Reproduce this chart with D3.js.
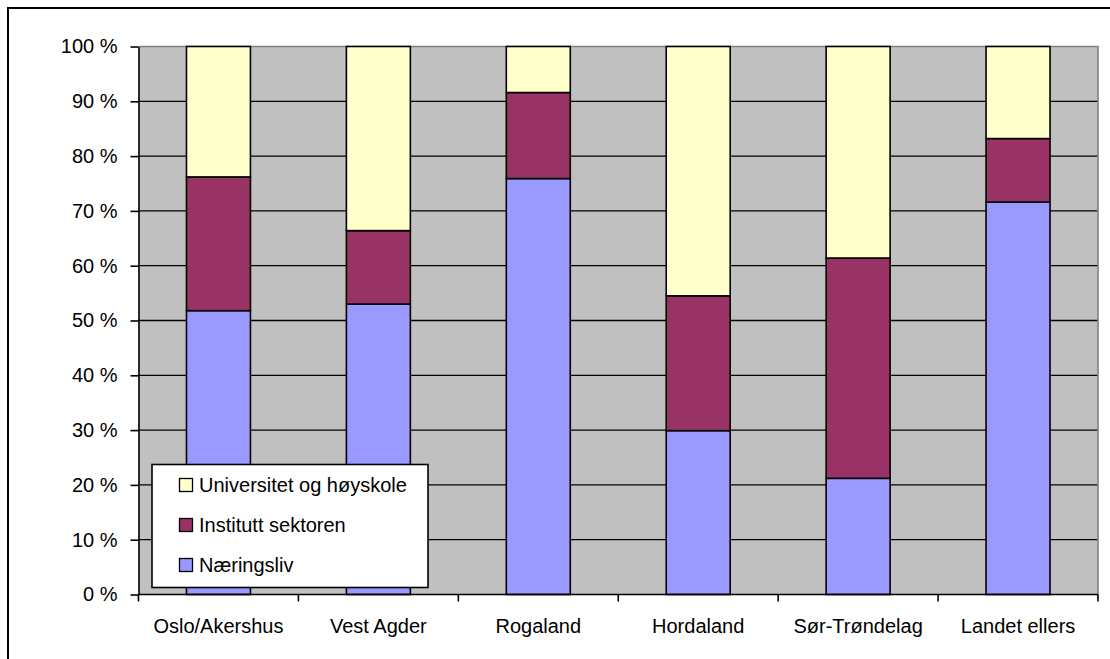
<!DOCTYPE html>
<html>
<head>
<meta charset="utf-8">
<script src="https://cdn.jsdelivr.net/npm/d3@7"></script>
<style>
  html, body { margin: 0; padding: 0; background: #fff; }
  svg { display: block; }
  text { font-family: "Liberation Sans", Arial, sans-serif; fill: #000; }
</style>
</head>
<body>
<svg id="chart" width="1110" height="659"></svg>
<script>
const categories = ["Oslo/Akershus", "Vest Agder", "Rogaland", "Hordaland", "Sør-Trøndelag", "Landet ellers"];
const seriesNames = ["Næringsliv", "Institutt sektoren", "Universitet og høyskole"];
const naeringsliv = [51.8, 53.0, 75.9, 29.9, 21.2, 71.6];
const institutt   = [24.4, 13.4, 15.7, 24.6, 40.2, 11.6];
const universitet = [23.8, 33.6, 8.4, 45.5, 38.6, 16.8];
const colors = ["#9999FF", "#993366", "#FFFFCC"];
const yTicks = [0, 10, 20, 30, 40, 50, 60, 70, 80, 90, 100];

(function () {
const svg = d3.select("#chart");
const fontSize = 20;

// outer frame
svg.append("rect").attr("x", 8).attr("y", 8).attr("width", 1140).attr("height", 700)
  .attr("fill", "#fff").attr("stroke", "#000").attr("stroke-width", 2);

const pL = 138.5, pR = 1098, pT = 46.5, pB = 594.5;

const x = d3.scaleBand().domain(categories).range([pL, pR]).paddingInner(0.6).paddingOuter(0.3);
const y = d3.scaleLinear().domain([0, 100]).range([pB, pT]);

// plot background
svg.append("rect").attr("x", pL).attr("y", pT).attr("width", pR - pL).attr("height", pB - pT)
  .attr("fill", "#C0C0C0");

// gridlines
svg.append("g").selectAll("line").data(yTicks.filter(d => d > 0 && d < 100)).join("line")
  .attr("x1", pL).attr("x2", pR).attr("y1", d => y(d)).attr("y2", d => y(d))
  .attr("stroke", "#000").attr("stroke-width", 1.3);

// plot border top/right
svg.append("path").attr("d", `M${pL},${pT}H${pR}V${pB}`)
  .attr("fill", "none").attr("stroke", "#808080").attr("stroke-width", 1.6);

// stacked data
const rows = categories.map((c, i) => ({cat: c, "Næringsliv": naeringsliv[i], "Institutt sektoren": institutt[i], "Universitet og høyskole": universitet[i]}));
const stack = d3.stack().keys(seriesNames)(rows);

svg.append("g").selectAll("g").data(stack).join("g")
  .attr("fill", (d, i) => colors[i])
  .selectAll("rect").data(d => d).join("rect")
  .attr("x", d => x(d.data.cat))
  .attr("width", x.bandwidth())
  .attr("y", d => y(d[1]))
  .attr("height", d => y(d[0]) - y(d[1]))
  .attr("stroke", "#000").attr("stroke-width", 1.6);

// y axis
const yAxis = d3.axisLeft(y).tickValues(yTicks).tickFormat(d => d + "\u00a0%").tickSizeInner(8).tickSizeOuter(0).tickPadding(13);
const gy = svg.append("g").attr("transform", `translate(${pL},0)`).call(yAxis);
gy.selectAll("path, line").attr("stroke", "#000").attr("stroke-width", 1.6);
gy.selectAll("text").style("font-size", fontSize + "px").attr("font-family", null).attr("fill", "#000");
gy.attr("font-family", null).attr("font-size", null);

// x axis
const gx = svg.append("g").attr("transform", `translate(0,${pB})`);
gx.append("line").attr("x1", pL).attr("x2", pR).attr("stroke", "#000").attr("stroke-width", 1.6);
const boundaries = d3.range(categories.length + 1).map(i => pL + i * x.step());
gx.selectAll("line.tick").data(boundaries).join("line").attr("class", "tick")
  .attr("x1", d => d).attr("x2", d => d).attr("y1", 0).attr("y2", 7)
  .attr("stroke", "#000").attr("stroke-width", 1.6);
gx.selectAll("text").data(categories).join("text")
  .attr("x", d => x(d) + x.bandwidth() / 2).attr("y", 38.5)
  .attr("text-anchor", "middle").style("font-size", fontSize + "px").text(d => d);

// legend
const lg = svg.append("g");
lg.append("rect").attr("x", 152).attr("y", 464.5).attr("width", 276).attr("height", 123)
  .attr("fill", "#fff").attr("stroke", "#000").attr("stroke-width", 1.6);
const legendItems = [2, 1, 0];
legendItems.forEach((si, k) => {
  const cy = 485 + k * 40;
  lg.append("rect").attr("x", 179.5).attr("y", cy - 6.5).attr("width", 13).attr("height", 13)
    .attr("fill", colors[si]).attr("stroke", "#000").attr("stroke-width", 1.3);
  lg.append("text").attr("x", 199).attr("y", cy).attr("dy", "0.35em")
    .style("font-size", fontSize + "px").text(seriesNames[si]);
});
})();
</script>
</body>
</html>
